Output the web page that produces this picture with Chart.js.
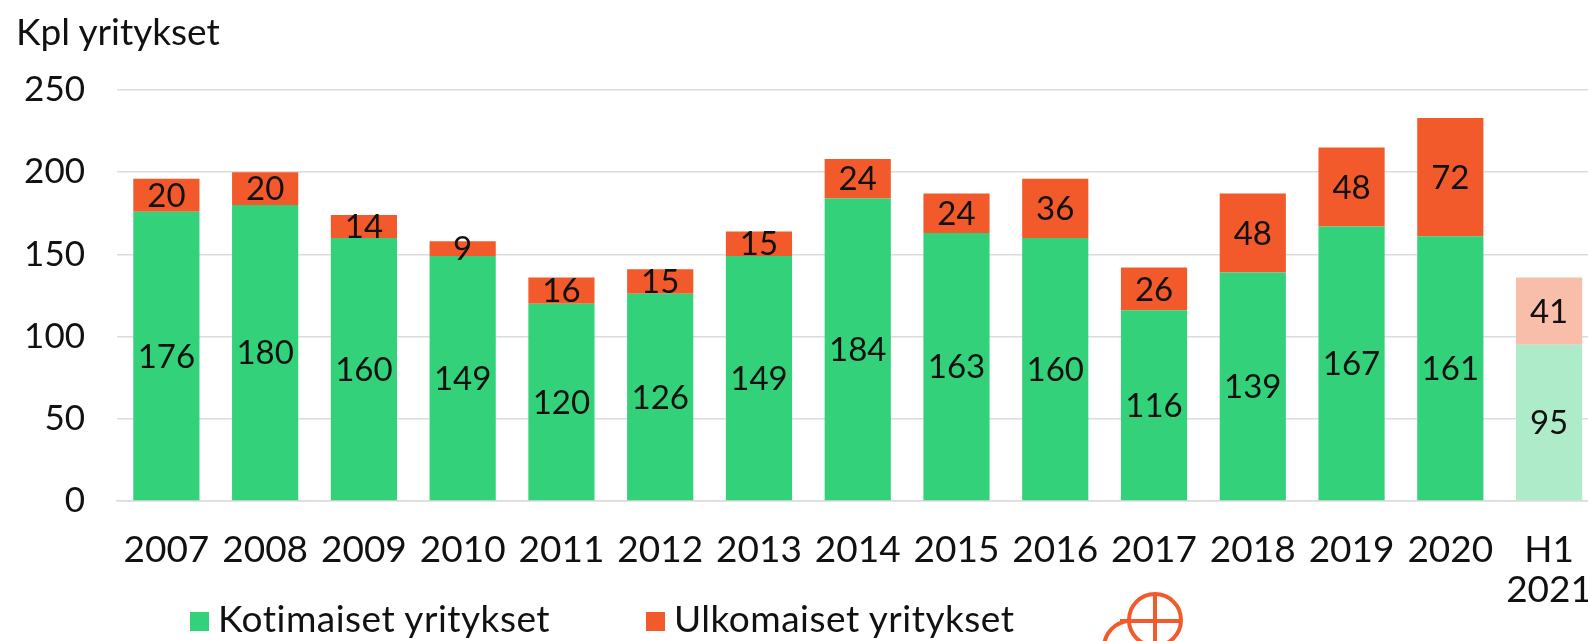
<!DOCTYPE html>
<html>
<head>
<meta charset="utf-8">
<script src="https://cdn.jsdelivr.net/npm/chart.js@4"></script>
<style>
    html, body { margin: 0; padding: 0; background: #fff; overflow: hidden; }
    body { width: 1588px; height: 641px; position: relative; font-family: Lato, sans-serif; color: #111; }
    #wrap { position: absolute; left: 0; top: 0; width: 1621px; height: 641px; }
    #otsikko { position: absolute; left: 16px; top: 8px; font-size: 37px; }
    .selite { position: absolute; top: 598px; font-size: 37px; line-height: 40px; letter-spacing: 0.5px; white-space: nowrap; }
    .selite span { display: inline-block; width: 19px; height: 19px; margin-right: 9px; vertical-align: 1px; }
    #logo { position: absolute; left: 1090px; top: 585px; }
</style>
</head>
<body>
<div id="wrap"><canvas id="chart1" width="1621" height="641"></canvas></div>
<div id="otsikko">Kpl yritykset</div>
<div class="selite" style="left:190px"><span style="background:#33d17a"></span>Kotimaiset yritykset</div>
<div class="selite" style="left:646px"><span style="background:#f25a2b"></span>Ulkomaiset yritykset</div>
<svg id="logo" width="100" height="60" viewBox="1090 585 100 60">
    <g fill="none" stroke="#f25a2b" stroke-width="4">
        <circle cx="1155" cy="620" r="26"/>
        <line x1="1155" y1="594" x2="1155" y2="646"/>
        <line x1="1120" y1="621" x2="1181" y2="621"/>
        <path d="M1104,646 A 27 27 0 0 1 1128 621"/>
    </g>
</svg>
<script>
const vuodet = ['2007', '2008', '2009', '2010', '2011', '2012', '2013', '2014', '2015', '2016', '2017', '2018', '2019', '2020', ['H1', '2021']];
const kotimaiset = [176, 180, 160, 149, 120, 126, 149, 184, 163, 160, 116, 139, 167, 161, 95];
const ulkomaiset = [20, 20, 14, 9, 16, 15, 15, 24, 24, 36, 26, 48, 48, 72, 41];
const yTicks = [0, 50, 100, 150, 200, 250];

const vihrea = kotimaiset.map((v, i) => i === kotimaiset.length - 1 ? '#aeecc9' : '#33d17a');
const oranssi = ulkomaiset.map((v, i) => i === ulkomaiset.length - 1 ? '#f8bea9' : '#f25a2b');

// arvot palkkien keskelle
const arvoPlugin = {
    id: 'arvot',
    afterDatasetsDraw(chart) {
        const ctx = chart.ctx;
        ctx.save();
        ctx.font = '33px Lato';
        ctx.fillStyle = '#111';
        ctx.textAlign = 'center';
        ctx.textBaseline = 'middle';
        chart.data.datasets.forEach((ds, di) => {
            chart.getDatasetMeta(di).data.forEach((bar, i) => {
                const y = (bar.y + bar.base) / 2;
                ctx.fillText(ds.data[i], bar.x, y + 1);
            });
        });
        ctx.restore();
    }
};

const ctx1 = document.getElementById('chart1').getContext('2d');
const myChart1 = new Chart(ctx1, {
    type: 'bar',
    data: {
        labels: vuodet,
        datasets: [{
            label: 'Kotimaiset yritykset',
            data: kotimaiset,
            backgroundColor: vihrea,
            borderWidth: 0,
            barPercentage: 0.67,
            categoryPercentage: 1
        }, {
            label: 'Ulkomaiset yritykset',
            data: ulkomaiset,
            backgroundColor: oranssi,
            borderWidth: 0,
            barPercentage: 0.67,
            categoryPercentage: 1
        }]
    },
    options: {
        responsive: false,
        animation: false,
        layout: { padding: { top: 90, left: 0, right: 0, bottom: 0 } },
        plugins: {
            legend: { display: false },
            tooltip: { enabled: false }
        },
        scales: {
            x: {
                stacked: true,
                grid: { display: false, drawTicks: false },
                border: { display: true, color: '#dcdcdc', width: 1.5 },
                ticks: { color: '#111', font: { family: 'Lato', size: 37, lineHeight: 1.08 }, padding: 29, maxRotation: 0, autoSkip: false },
                afterFit: scale => { scale.height = 140; }
            },
            y: {
                stacked: true,
                min: 0,
                max: 250,
                afterBuildTicks: scale => { scale.ticks = yTicks.map(v => ({ value: v })); },
                grid: { color: '#dcdcdc', lineWidth: 1.5, drawTicks: false },
                border: { display: false },
                ticks: { color: '#111', font: { family: 'Lato', size: 35 }, padding: 32 },
                afterFit: scale => { scale.width = 117; }
            }
        }
    },
    plugins: [arvoPlugin]
});
</script>
</body>
</html>
